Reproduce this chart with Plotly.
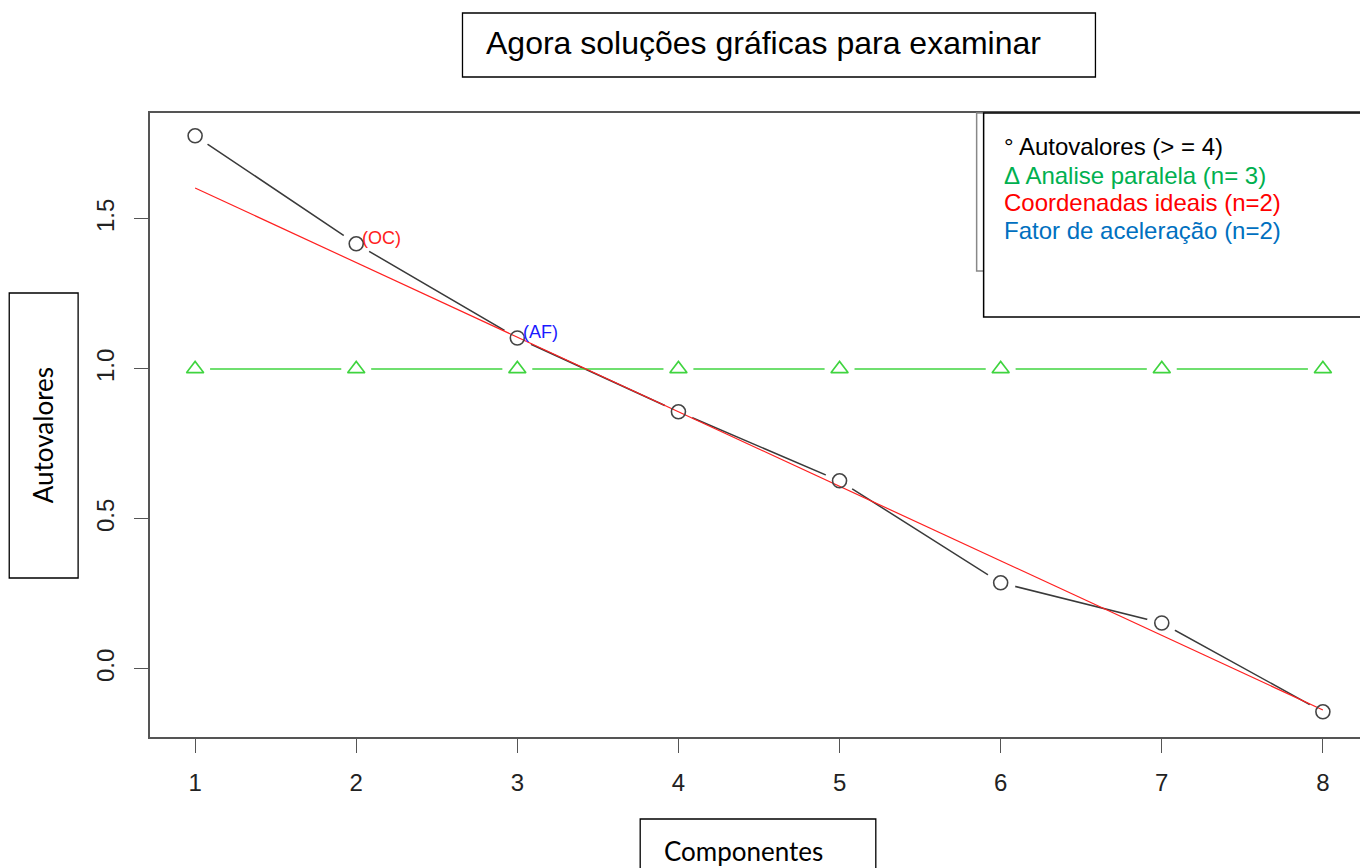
import plotly.graph_objects as go

# ---- data ----
components = [1, 2, 3, 4, 5, 6, 7, 8]
eigenvalues = [1.777, 1.417, 1.103, 0.857, 0.627, 0.287, 0.153, -0.143]
parallel = [1.0, 1.0, 1.0, 1.0, 1.0, 1.0, 1.0, 1.0]
oc_x = [1, 8]
oc_y = [1.603, -0.137]
x_ticks = [1, 2, 3, 4, 5, 6, 7, 8]
y_ticks = [0.0, 0.5, 1.0, 1.5]

# page body margin offset (pixels)
OFF = 8
W, H = 1368, 868
# plot area in reference (page) pixels
PL, PR, PT, PB = 150, 1370, 113, 737
L = PL - OFF
T = PT - OFF
R = W - (PR - OFF)
B = H - (PB - OFF)
PW = PR - PL
PH = PB - PT


def px(x):
    return (x - PL) / PW


def py(y):
    return 1 - (y - PT) / PH


fig = go.Figure()

# black scree line with gaps (type "b")
fig.add_trace(go.Scatter(x=components, y=eigenvalues, mode="lines",
                         line=dict(color="#3a3a3a", width=1.5), hoverinfo="skip"))
fig.add_trace(go.Scatter(x=components, y=eigenvalues, mode="markers",
                         marker=dict(symbol="circle", size=30, color="white", line=dict(width=0)),
                         hoverinfo="skip"))
# green parallel analysis line with gaps
fig.add_trace(go.Scatter(x=components, y=parallel, mode="lines",
                         line=dict(color="#3fd43f", width=1.5), hoverinfo="skip"))
fig.add_trace(go.Scatter(x=components, y=parallel, mode="markers",
                         marker=dict(symbol="circle", size=30, color="white", line=dict(width=0)),
                         hoverinfo="skip"))
# red optimal coordinates line
fig.add_trace(go.Scatter(x=oc_x, y=oc_y, mode="lines",
                         line=dict(color="#ff2020", width=1.2), hoverinfo="skip"))
# markers
fig.add_trace(go.Scatter(x=components, y=parallel, mode="markers",
                         marker=dict(symbol="triangle-up-open", size=15,
                                     color="#3fd43f", line=dict(width=1.6))))
fig.add_trace(go.Scatter(x=components, y=eigenvalues, mode="markers",
                         marker=dict(symbol="circle-open", size=14,
                                     color="#444444", line=dict(width=1.6))))

annotations = [
    dict(x=components[1], y=eigenvalues[1], xref="x", yref="y", text="(OC)",
         showarrow=False, xanchor="left", yanchor="middle", xshift=4, yshift=6,
         font=dict(family="Liberation Sans, Arial", size=18, color="#ff2020")),
    dict(x=components[2], y=eigenvalues[2], xref="x", yref="y", text="(AF)",
         showarrow=False, xanchor="left", yanchor="middle", xshift=4, yshift=6,
         font=dict(family="Liberation Sans, Arial", size=18, color="#1a1aff")),
]

shapes = []
# R legend box (partly hidden)
shapes.append(dict(type="rect", xref="paper", yref="paper",
                   x0=px(978), x1=px(1400), y0=py(271), y1=py(113),
                   line=dict(color="#888888", width=1.5), fillcolor="white", layer="above"))
# overlay legend box
shapes.append(dict(type="rect", xref="paper", yref="paper",
                   x0=px(985), x1=px(1400), y0=py(317), y1=py(113),
                   line=dict(color="black", width=1.5), fillcolor="white", layer="above"))
# title box
shapes.append(dict(type="rect", xref="paper", yref="paper",
                   x0=px(463), x1=px(1097), y0=py(77), y1=py(13),
                   line=dict(color="black", width=1.3), fillcolor="white", layer="above"))
# y label box
shapes.append(dict(type="rect", xref="paper", yref="paper",
                   x0=px(9), x1=px(78), y0=py(578), y1=py(293),
                   line=dict(color="black", width=1.3), fillcolor="white", layer="above"))
# x label box
shapes.append(dict(type="rect", xref="paper", yref="paper",
                   x0=px(641), x1=px(877), y0=py(890), y1=py(819),
                   line=dict(color="black", width=1.3), fillcolor="white", layer="above"))

annotations += [
    dict(xref="paper", yref="paper", x=px(485), y=py(43), text="Agora soluções gráficas para examinar",
         showarrow=False, xanchor="left", yanchor="middle",
         font=dict(family="Liberation Sans, Arial", size=32, color="black")),
    dict(xref="paper", yref="paper", x=px(43), y=py(435), text="Autovalores", textangle=-90,
         showarrow=False, xanchor="center", yanchor="middle",
         font=dict(family="Lato, Open Sans", size=26, color="black")),
    dict(xref="paper", yref="paper", x=px(663), y=py(851), text="Componentes",
         showarrow=False, xanchor="left", yanchor="middle",
         font=dict(family="Lato, Open Sans", size=26, color="black")),
]

legend_lines = [
    ("° Autovalores (> = 4)", "black", 146),
    ("Δ Analise paralela (n= 3)", "#00b050", 175),
    ("Coordenadas ideais (n=2)", "#ff0000", 203),
    ("Fator de aceleração (n=2)", "#0070c0", 230),
]
for txt, col, yy in legend_lines:
    annotations.append(dict(xref="paper", yref="paper", x=px(1003), y=py(yy), text=txt,
                            showarrow=False, xanchor="left", yanchor="middle",
                            font=dict(family="Liberation Sans, Arial", size=24, color=col)))

fig.update_layout(
    width=W, height=H,
    margin=dict(l=L, r=R, t=T, b=B, pad=0),
    plot_bgcolor="white", paper_bgcolor="white",
    showlegend=False,
    shapes=shapes,
    annotations=annotations,
    xaxis=dict(range=[0.72, 8.28], tickvals=x_ticks, ticktext=[str(v) for v in x_ticks],
               showgrid=False, zeroline=False, showline=True, mirror=True,
               linecolor="#555555", linewidth=1.5, ticks="outside", ticklen=14,
               tickcolor="#555555", tickwidth=1.2, ticklabelstandoff=9,
               tickfont=dict(family="Liberation Sans, Arial", size=24, color="#222222")),
    yaxis=dict(range=[-0.227, 1.853], tickvals=y_ticks, tickformat=".1f",
               showgrid=False, zeroline=False, showline=True, mirror=True,
               linecolor="#555555", linewidth=1.5, ticks="outside", ticklen=14,
               tickcolor="#555555", tickwidth=1.2, tickangle=-90, ticklabelstandoff=11,
               tickfont=dict(family="Liberation Sans, Arial", size=24, color="#222222")),
)

fig.write_html("out.html")
